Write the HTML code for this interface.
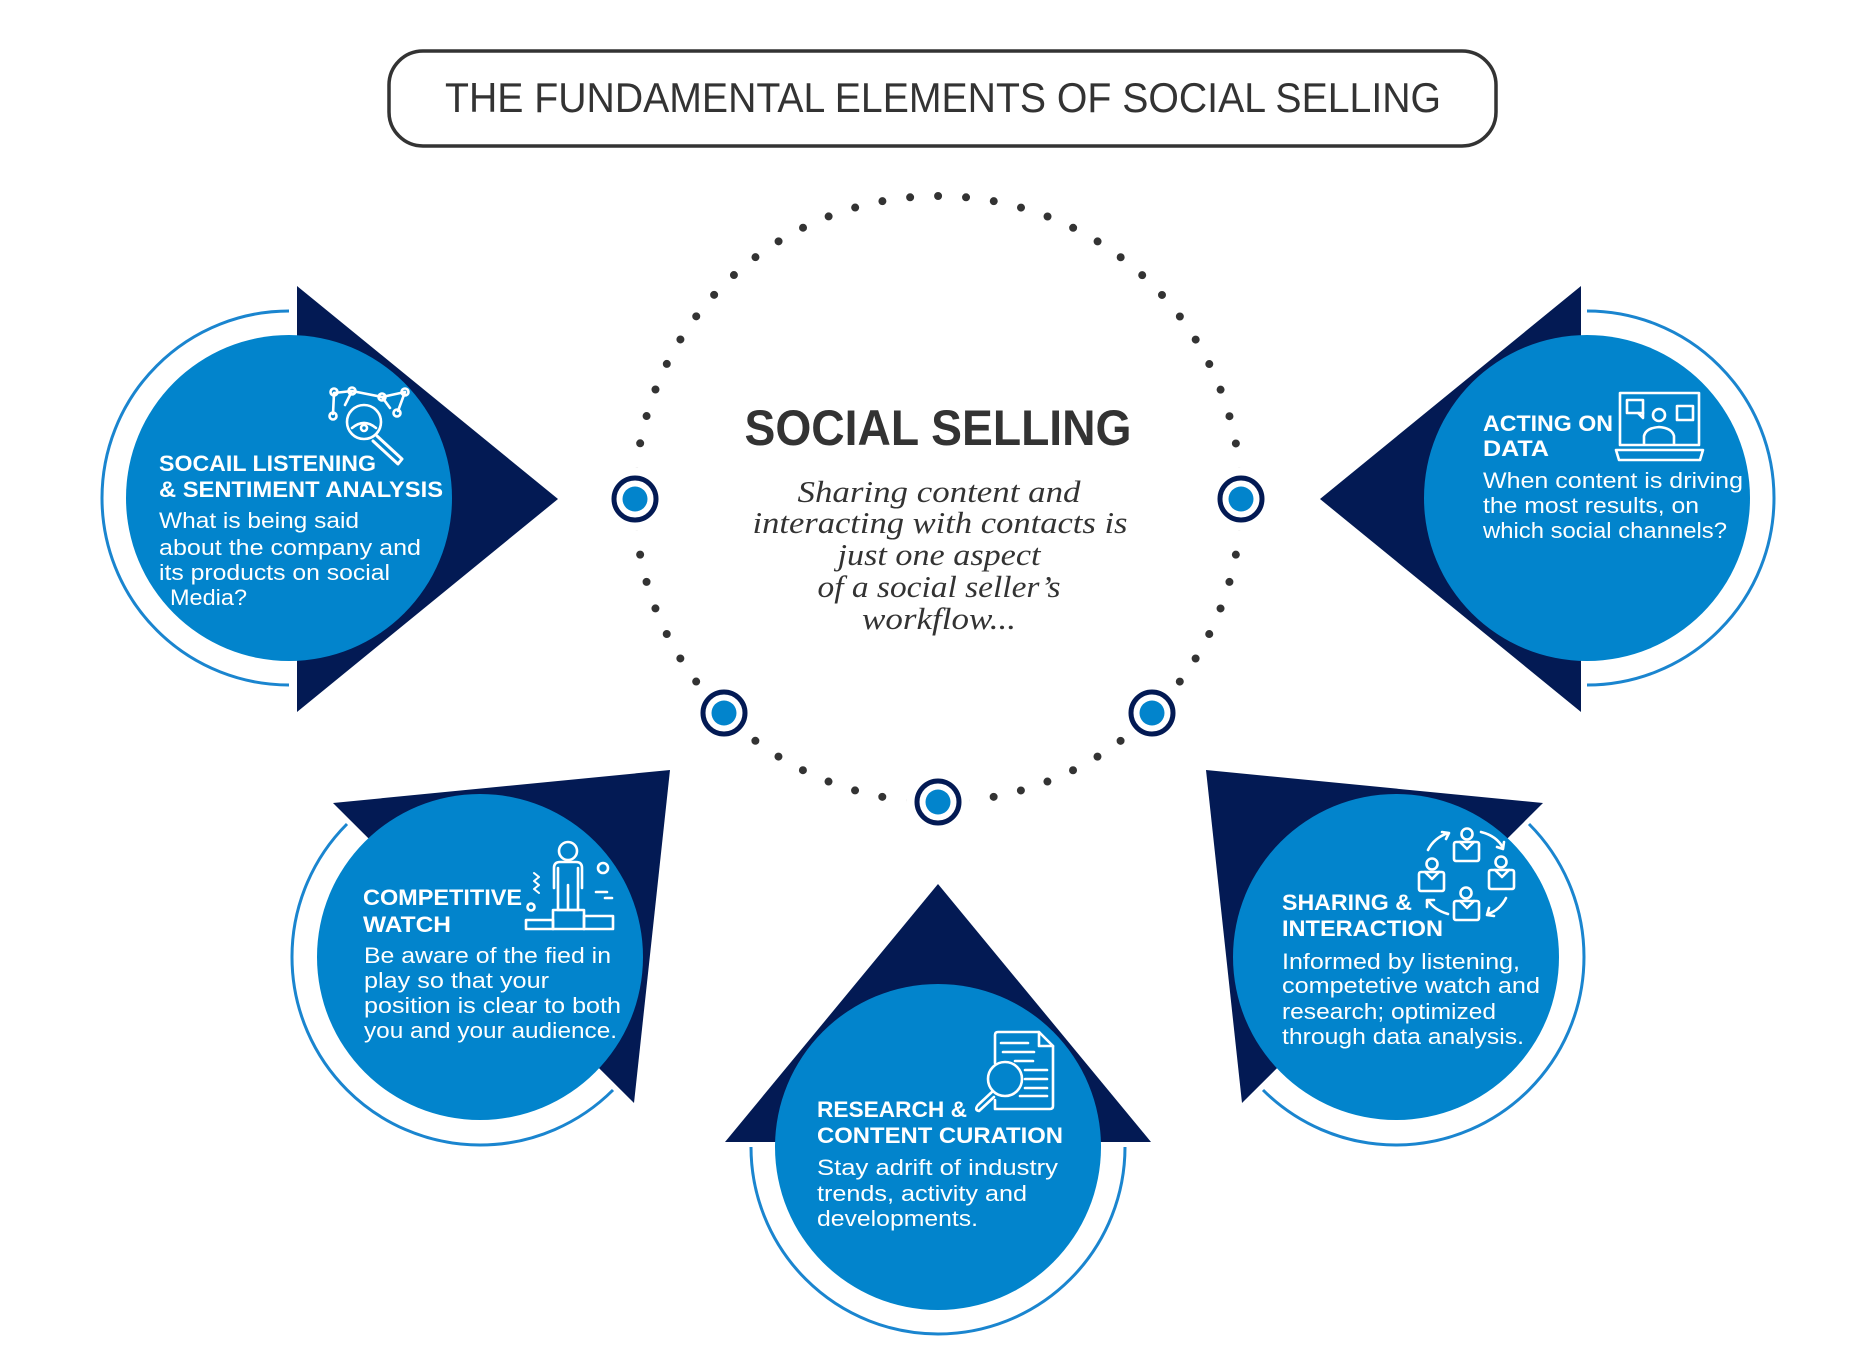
<!DOCTYPE html>
<html><head><meta charset="utf-8"><style>
html,body{margin:0;padding:0;background:#fff}
svg{display:block}
.h{font-family:"Liberation Sans",sans-serif;font-weight:bold;font-size:22px;fill:#fff}
.b{font-family:"Liberation Sans",sans-serif;font-size:22px;fill:#fff}
.i{fill:none;stroke:#fff;stroke-width:2.6;stroke-linecap:round;stroke-linejoin:round}
.it{font-family:"Liberation Serif",serif;font-style:italic;font-size:31px;fill:#333}
</style></head><body>
<svg width="1876" height="1355" viewBox="0 0 1876 1355" xmlns="http://www.w3.org/2000/svg">
<!-- title -->
<rect x="389" y="51" width="1107" height="95" rx="34" fill="#fff" stroke="#333" stroke-width="3.5"/>
<text x="943" y="112" text-anchor="middle" font-family="Liberation Sans,sans-serif" font-size="42" fill="#333" textLength="996" lengthAdjust="spacingAndGlyphs">THE FUNDAMENTAL ELEMENTS OF SOCIAL SELLING</text>

<!-- dotted circle -->
<circle cx="938" cy="499" r="303" fill="none" stroke="#333" stroke-width="8" stroke-linecap="round" stroke-dasharray="0 27.996"/>
<g>
<circle cx="635" cy="499" r="32" fill="#fff"/>
<circle cx="1241" cy="499" r="32" fill="#fff"/>
<circle cx="724" cy="713" r="32" fill="#fff"/>
<circle cx="1152" cy="713" r="32" fill="#fff"/>
<circle cx="938" cy="802" r="32" fill="#fff"/>
</g>
<g fill="#fff" stroke="#031a54" stroke-width="5">
<circle cx="635" cy="499" r="21"/><circle cx="1241" cy="499" r="21"/><circle cx="724" cy="713" r="21"/><circle cx="1152" cy="713" r="21"/><circle cx="938" cy="802" r="21"/>
</g>
<g fill="#0284cc">
<circle cx="635" cy="499" r="12.5"/><circle cx="1241" cy="499" r="12.5"/><circle cx="724" cy="713" r="12.5"/><circle cx="1152" cy="713" r="12.5"/><circle cx="938" cy="802" r="12.5"/>
</g>

<text x="938" y="445" text-anchor="middle" font-family="Liberation Sans,sans-serif" font-weight="bold" font-size="50" fill="#333" textLength="387" lengthAdjust="spacingAndGlyphs">SOCIAL SELLING</text>
<text class="it" x="939" y="502" text-anchor="middle" textLength="283" lengthAdjust="spacingAndGlyphs">Sharing content and</text>
<text class="it" x="940" y="533" text-anchor="middle" textLength="375" lengthAdjust="spacingAndGlyphs">interacting with contacts is</text>
<text class="it" x="939" y="565" text-anchor="middle" textLength="203" lengthAdjust="spacingAndGlyphs">just one aspect</text>
<text class="it" x="939" y="597" text-anchor="middle" textLength="243" lengthAdjust="spacingAndGlyphs">of a social seller’s</text>
<text class="it" x="939" y="629" text-anchor="middle" textLength="154" lengthAdjust="spacingAndGlyphs">workflow...</text>

<!-- triangles -->
<g fill="#031a54">
<polygon points="297,286 297,712 558,499"/>
<polygon points="1581,286 1581,712 1320,499"/>
<polygon points="333,803 670,770 634,1103"/>
<polygon points="1543,803 1206,770 1242,1103"/>
<polygon points="938,884 725,1142 1151,1142"/>
</g>
<!-- arcs -->
<g fill="none" stroke="#1a85cf" stroke-width="3">
<path d="M289,311 A187,187 0 0 0 289,685"/>
<path d="M1587,311 A187,187 0 0 1 1587,685"/>
<path d="M751,1147 A187,187 0 0 0 1125,1147"/>
<path d="M347,824 A188,188 0 0 0 613,1090"/>
<path d="M1529,824 A188,188 0 0 1 1263,1090"/>
</g>
<!-- circles -->
<g fill="#0284cc">
<circle cx="289" cy="498" r="163"/>
<circle cx="1587" cy="498" r="163"/>
<circle cx="480" cy="957" r="163"/>
<circle cx="1396" cy="957" r="163"/>
<circle cx="938" cy="1147" r="163"/>
</g>

<!-- left text -->
<text class="h" x="159" y="471" textLength="217" lengthAdjust="spacingAndGlyphs">SOCAIL LISTENING</text>
<text class="h" x="159" y="497" textLength="284" lengthAdjust="spacingAndGlyphs">&amp; SENTIMENT ANALYSIS</text>
<text class="b" x="159" y="528" textLength="200" lengthAdjust="spacingAndGlyphs">What is being said</text>
<text class="b" x="159" y="555" textLength="262" lengthAdjust="spacingAndGlyphs">about the company and</text>
<text class="b" x="159" y="580" textLength="231" lengthAdjust="spacingAndGlyphs">its products on social</text>
<text class="b" x="170" y="605" textLength="77" lengthAdjust="spacingAndGlyphs">Media?</text>
<!-- left icon -->
<g class="i">
<polyline points="334,393 352,391 382,397 405,392"/>
<line x1="352" y1="391" x2="345" y2="405"/>
<line x1="382" y1="397" x2="390" y2="408"/>
<line x1="405" y1="392" x2="398" y2="411"/>
<line x1="334" y1="393" x2="333" y2="414"/>
<circle cx="334" cy="392" r="3.5"/><circle cx="352" cy="391" r="3.5"/><circle cx="382" cy="397" r="3.5"/><circle cx="405" cy="392" r="3.5"/><circle cx="333" cy="416" r="3.5"/><circle cx="397" cy="413" r="3.5"/>
<circle cx="364" cy="422" r="17"/>
<path d="M352,428 Q364,418 376,428"/><circle cx="364" cy="428" r="3"/>
<path d="M377,436 L402,459 L398,464 L373,441" stroke-width="3"/>
</g>

<!-- right text -->
<text class="h" x="1483" y="431" textLength="130" lengthAdjust="spacingAndGlyphs">ACTING ON</text>
<text class="h" x="1483" y="456" textLength="66" lengthAdjust="spacingAndGlyphs">DATA</text>
<text class="b" x="1483" y="488" textLength="260" lengthAdjust="spacingAndGlyphs">When content is driving</text>
<text class="b" x="1483" y="513" textLength="216" lengthAdjust="spacingAndGlyphs">the most results, on</text>
<text class="b" x="1483" y="538" textLength="244" lengthAdjust="spacingAndGlyphs">which social channels?</text>
<g class="i">
<rect x="1620" y="393" width="79" height="52"/>
<path d="M1616,450 H1703 L1700,460 H1619 Z"/>
<rect x="1627" y="400" width="16" height="13"/><path d="M1638,413 L1643,418 V413"/>
<rect x="1677" y="406" width="16" height="14"/>
<circle cx="1659" cy="415" r="6"/>
<path d="M1644,444 V436 Q1646,428 1659,427 Q1672,428 1674,436 V444"/>
</g>

<!-- competitive -->
<text class="h" x="363" y="905" textLength="159" lengthAdjust="spacingAndGlyphs">COMPETITIVE</text>
<text class="h" x="363" y="932" textLength="88" lengthAdjust="spacingAndGlyphs">WATCH</text>
<text class="b" x="364" y="963" textLength="247" lengthAdjust="spacingAndGlyphs">Be aware of the fied in</text>
<text class="b" x="364" y="988" textLength="185" lengthAdjust="spacingAndGlyphs">play so that your</text>
<text class="b" x="364" y="1013" textLength="257" lengthAdjust="spacingAndGlyphs">position is clear to both</text>
<text class="b" x="364" y="1038" textLength="253" lengthAdjust="spacingAndGlyphs">you and your audience.</text>
<g class="i">
<circle cx="568" cy="851" r="9"/>
<path d="M554,888 V868 Q554,862 560,862 H576 Q582,862 582,868 V888 M558,868 V910 H578 V868 M568,885 V910"/>
<rect x="553" y="910" width="31" height="19"/>
<rect x="526" y="920" width="27" height="9"/><rect x="584" y="916" width="29" height="13"/>
<circle cx="603" cy="868" r="5"/><line x1="596" y1="892" x2="607" y2="892"/><line x1="605" y1="898" x2="612" y2="898"/>
<path d="M534,873 L539,877 L534,881 L539,885 L534,889 L539,893" stroke-width="2"/>
<circle cx="531" cy="907" r="3.5"/>
</g>

<!-- sharing -->
<text class="h" x="1282" y="910" textLength="130" lengthAdjust="spacingAndGlyphs">SHARING &amp;</text>
<text class="h" x="1282" y="936" textLength="161" lengthAdjust="spacingAndGlyphs">INTERACTION</text>
<text class="b" x="1282" y="969" textLength="238" lengthAdjust="spacingAndGlyphs">Informed by listening,</text>
<text class="b" x="1282" y="993" textLength="258" lengthAdjust="spacingAndGlyphs">competetive watch and</text>
<text class="b" x="1282" y="1019" textLength="214" lengthAdjust="spacingAndGlyphs">research; optimized</text>
<text class="b" x="1282" y="1044" textLength="242" lengthAdjust="spacingAndGlyphs">through data analysis.</text>
<g class="i">
<circle cx="1467" cy="834" r="5.5"/><rect x="1454" y="842" width="25" height="19" rx="2"/><path d="M1460,842 L1467,849 L1474,842"/>
<circle cx="1432" cy="864" r="5.5"/><rect x="1419" y="872" width="25" height="19" rx="2"/><path d="M1425,872 L1432,879 L1439,872"/>
<circle cx="1501" cy="862" r="5.5"/><rect x="1489" y="870" width="25" height="19" rx="2"/><path d="M1495,870 L1502,877 L1509,870"/>
<circle cx="1466" cy="893" r="5.5"/><rect x="1454" y="901" width="25" height="19" rx="2"/><path d="M1460,901 L1467,908 L1474,901"/>
<path d="M1428,850 Q1434,838 1448,833 M1442,832 L1449,833 L1446,839"/>
<path d="M1481,832 Q1497,836 1503,848 M1497,847 L1503,849 L1504,842"/>
<path d="M1506,898 Q1500,910 1488,914 M1489,908 L1487,915 L1494,916"/>
<path d="M1448,914 Q1434,910 1428,900 M1427,907 L1427,900 L1434,900"/>
</g>

<!-- research -->
<text class="h" x="817" y="1117" textLength="150" lengthAdjust="spacingAndGlyphs">RESEARCH &amp;</text>
<text class="h" x="817" y="1143" textLength="246" lengthAdjust="spacingAndGlyphs">CONTENT CURATION</text>
<text class="b" x="817" y="1175" textLength="241" lengthAdjust="spacingAndGlyphs">Stay adrift of industry</text>
<text class="b" x="817" y="1201" textLength="210" lengthAdjust="spacingAndGlyphs">trends, activity and</text>
<text class="b" x="817" y="1226" textLength="161" lengthAdjust="spacingAndGlyphs">developments.</text>
<g class="i">
<path d="M995,1063 V1035 Q995,1032 998,1032 H1039 L1053,1046 V1106 Q1053,1109 1050,1109 H995 V1100"/>
<path d="M1039,1032 V1046 H1053"/>
<line x1="1001" y1="1043" x2="1028" y2="1043"/><line x1="1003" y1="1052" x2="1034" y2="1052"/><line x1="1015" y1="1061" x2="1033" y2="1061"/>
<line x1="1025" y1="1070" x2="1047" y2="1070"/><line x1="1025" y1="1079" x2="1047" y2="1079"/><line x1="1025" y1="1088" x2="1047" y2="1088"/><line x1="1020" y1="1096" x2="1047" y2="1096"/>
<circle cx="1005" cy="1079" r="17"/>
<path d="M993,1091 L978,1105 Q974,1110 979,1111 L994,1097"/>
</g>
</svg>
</body></html>
